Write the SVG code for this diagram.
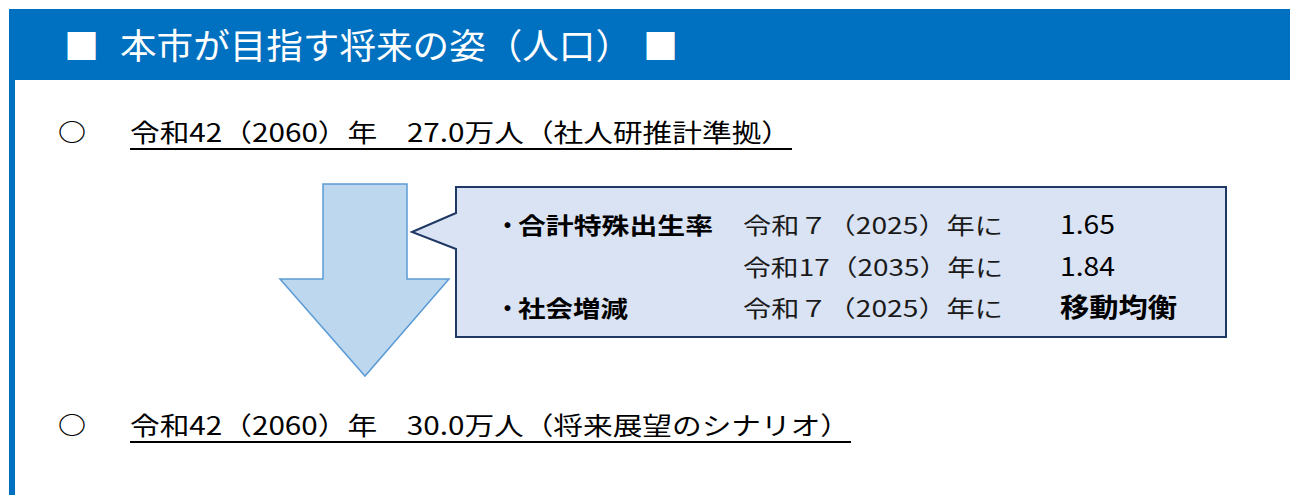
<svg xmlns="http://www.w3.org/2000/svg" width="1290" height="495" viewBox="0 0 1290 495">
  <style>
    text { font-family: "Noto Sans CJK JP", "Noto Sans CJK SC", "Liberation Sans", sans-serif; }
    .hdr { fill: #FFFFFF; font-size: 35px; }
    .body { fill: #000000; font-size: 25px; }
    .mark { fill: #000000; font-size: 24px; font-weight: bold; }
    .lbl { fill: #000000; font-size: 23px; font-weight: bold; }
    .yr { fill: #1A1A1A; font-size: 23px; }
    .val { fill: #000000; font-size: 26px; }
    .ul { stroke: #000000; stroke-width: 2; }
    .blue { fill: #0070C0; }
  </style>
  <rect width="1290" height="495" fill="#FFFFFF"/>
  <g id="frame">
    <rect class="blue" x="9" y="9" width="1281" height="71"/>
    <rect class="blue" x="9" y="80" width="6" height="415"/>
  </g>
  <g id="title">
    <text class="hdr" x="64" y="59">■</text>
    <text class="hdr" x="120" y="59" textLength="512" lengthAdjust="spacingAndGlyphs">本市が目指す将来の姿（人口）</text>
    <text class="hdr" x="643" y="59">■</text>
  </g>
  <g id="current">
    <text class="mark" x="58" y="141" textLength="28" lengthAdjust="spacingAndGlyphs">○</text>
    <text class="body" x="130" y="142" textLength="661" lengthAdjust="spacingAndGlyphs">令和42（2060）年　27.0万人（社人研推計準拠）</text>
    <line class="ul" x1="130" y1="149" x2="792" y2="149"/>
  </g>
  <g id="connectors">
    <polygon points="323,184 407,184 407,279 449,279 365,376 280,279 323,279" fill="#BDD7EE" stroke="#5B9BD5" stroke-width="1.5"/>
  </g>
  <g id="assumptions">
    <path d="M456,187 H1226 V337 H456 V249 L412,232 L456,213 Z" fill="#DAE3F3" stroke="#1F3864" stroke-width="2"/>
    <text class="lbl" x="496" y="234">・</text>
    <text class="lbl" x="518" y="234" textLength="195" lengthAdjust="spacingAndGlyphs">合計特殊出生率</text>
    <text class="lbl" x="496" y="317">・</text>
    <text class="lbl" x="518" y="317" textLength="110" lengthAdjust="spacingAndGlyphs">社会増減</text>
    <text class="yr" x="743" y="234" textLength="260" lengthAdjust="spacingAndGlyphs">令和７（2025）年に</text>
    <text class="yr" x="743" y="276" textLength="260" lengthAdjust="spacingAndGlyphs">令和17（2035）年に</text>
    <text class="yr" x="743" y="317" textLength="260" lengthAdjust="spacingAndGlyphs">令和７（2025）年に</text>
    <text class="val" x="1060" y="234" textLength="55" lengthAdjust="spacingAndGlyphs">1.65</text>
    <text class="val" x="1060" y="276" textLength="55" lengthAdjust="spacingAndGlyphs">1.84</text>
    <text class="val" x="1060" y="317" font-size="24" textLength="117" lengthAdjust="spacingAndGlyphs" font-weight="bold">移動均衡</text>
  </g>
  <g id="target">
    <text class="mark" x="58" y="434" textLength="28" lengthAdjust="spacingAndGlyphs">○</text>
    <text class="body" x="130" y="435" textLength="720" lengthAdjust="spacingAndGlyphs">令和42（2060）年　30.0万人（将来展望のシナリオ）</text>
    <line class="ul" x1="130" y1="442" x2="851" y2="442"/>
  </g>
</svg>
